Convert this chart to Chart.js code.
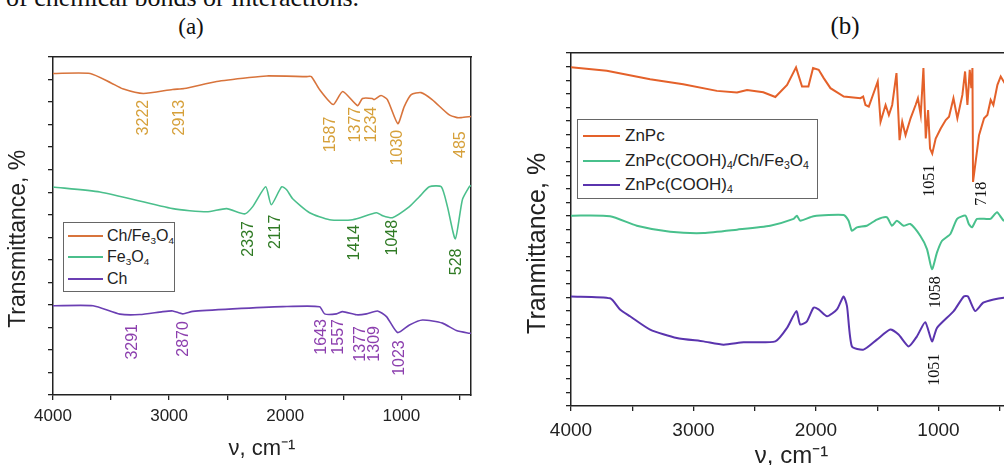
<!DOCTYPE html>
<html><head><meta charset="utf-8">
<script src="https://cdn.jsdelivr.net/npm/chart.js@4"></script>
<style>
html,body{margin:0;padding:0;width:1004px;height:465px;overflow:hidden;background:#fff;position:relative;font-family:"Liberation Sans",Arial,sans-serif;color:#222;}
.abs{position:absolute;}
#cut{left:6px;top:-15px;font:26px/26px "Liberation Serif","Times New Roman",serif;white-space:nowrap;color:#111;}
.ptitle{font-family:"Liberation Serif","Times New Roman",serif;color:#111;transform:translate(-50%,-50%);white-space:nowrap;}
.legend{border:1px solid #666;background:#fff;box-sizing:border-box;}
.row{display:flex;align-items:center;white-space:nowrap;}
.row .ln{display:inline-block;height:0;}
sub{font-size:0.62em;vertical-align:-0.3em;line-height:0;}
</style></head><body>
<div id="cut" class="abs">of chemical bonds or interactions.</div>
<div class="abs ptitle" style="left:191px;top:27px;font-size:23px;">(a)</div>
<div class="abs ptitle" style="left:845px;top:26px;font-size:25px;">(b)</div>
<canvas id="cA" class="abs" width="505" height="465" style="left:0;top:0;"></canvas>
<canvas id="cB" class="abs" width="530" height="480" style="left:505px;top:0;"></canvas>
<div id="legA" class="abs legend" style="left:63px;top:222px;width:112px;height:70px;padding-top:2px;"></div>
<div id="legB" class="abs legend" style="left:577px;top:119px;width:241px;height:80px;padding-top:3.75px;"></div>
<script>
// ---------- Panel (a) data ----------
const namesA = ['Ch/Fe<sub>3</sub>O<sub>4</sub>', 'Fe<sub>3</sub>O<sub>4</sub>', 'Ch'];
const wnChFe = [4000,3680,3500,3400,3222,2970,2870,2590,2310,2160,1815,1775,1705,1587,1505,1377,1335,1250,1234,1175,1120,1030,975,915,830,735,590,520,485,400];
const tChFe  = [14.27,14.27,13.85,13.59,13.38,13.56,13.6,13.91,14.09,14.16,14.13,14.13,13.56,12.89,13.47,12.84,13.16,13.16,13.11,13.29,13.11,12.04,12.8,13.33,13.42,13.11,12.44,12.31,12.31,12.36];
const wnFe = [4000,3596,2968,2676,2504,2349,2280,2168,2120,2031,1988,1936,1790,1618,1420,1214,1163,1077,930,845,759,656,603,535,474,415,400];
const tFe  = [9.23,9.01,8.27,8.13,8.27,8.04,8.36,9.24,8.44,9.24,9.11,8.71,8.09,7.78,7.78,8.09,7.96,7.87,8.36,8.8,9.24,9.24,8.36,6.93,8.67,9.24,9.3];
const wnCh = [4000,3655,3424,3252,3054,2968,2882,2796,2452,2022,1704,1661,1558,1506,1386,1300,1205,1128,1032,930,818,646,526,415,400];
const tCh  = [3.96,3.96,3.59,3.57,3.70,3.73,3.6,3.71,3.82,3.92,3.92,3.6,3.6,3.70,3.56,3.6,3.73,3.48,2.77,3.11,3.33,3.19,2.86,2.74,2.74];
const peakTextA = ['3222','2913','1587','1377','1234','1030','485','2337','2117','1414','1048','528','3291','2870','1643','1557','1377','1309','1023'];
const peakXA = [3218,2908,1610,1395,1257,1034,492,2315,2083,1403,1077,526,3312,2874,1687,1541,1352,1231,1016];
const peakYA = [12.31,12.31,11.56,12.0,12.0,10.98,11.11,6.93,7.24,6.76,6.98,5.91,2.36,2.49,2.58,2.58,2.27,2.27,1.64];
const peakSeriesA = [0,0,0,0,0,0,0,1,1,1,1,1,2,2,2,2,2,2,2];

// ---------- Panel (b) data ----------
const namesB = ['ZnPc', 'ZnPc(COOH)<sub>4</sub>/Ch/Fe<sub>3</sub>O<sub>4</sub>', 'ZnPc(COOH)<sub>4</sub>'];
const wnZn = [4000,3708,3354,3084,2809,2645,2563,2430,2332,2236,2163,2114,2062,2024,1978,1937,1882,1773,1637,1615,1596,1569,1496,1473,1432,1405,1378,1343,1318,1296,1269,1228,1187,1168,1145,1123,1104,1085,1069,1051,1023,982,941,914,878,846,805,783,764,745,732,723,718,669,628,601,574,552,519,492,460,400];
const tZn  = [24.96,24.69,24.07,23.70,23.21,23.09,23.28,23.11,22.76,23.65,24.94,23.53,23.53,24.89,24.76,24.15,23.41,22.79,22.67,22.79,22.17,22.05,23.9,20.94,22.17,21.43,22.17,24.52,19.58,20.94,19.95,21.19,22.17,22.67,21.43,24.89,19.7,21.8,18.96,18.59,19.7,20.44,21.06,21.31,22.67,21.19,22.91,24.64,22.17,24.76,23.41,24.89,16.5,19.95,21.19,21.43,22.54,22.17,23.65,24.27,23.78,24.15];
const wnZnF = [4000,3681,3463,3190,2918,2645,2374,2183,2156,2129,2020,1775,1734,1707,1666,1585,1503,1422,1380,1340,1285,1231,1149,1094,1053,1012,971,903,848,780,753,726,685,576,522,467,400];
const tZnF  = [14.02,13.98,13.28,12.84,12.74,12.99,13.28,13.78,14.02,13.65,13.98,14.07,13.65,12.91,13.16,13.28,13.73,13.9,13.28,13.65,13.28,13.41,12.54,11.56,10.07,11.31,12.17,12.67,13.78,14.02,13.41,13.16,13.78,13.78,14.27,13.65,13.78];
const wnZnC = [4000,3681,3600,3518,3354,3136,2918,2755,2591,2332,2236,2160,2129,2074,2020,1979,1910,1829,1775,1747,1707,1612,1503,1394,1326,1244,1176,1108,1053,1012,876,794,760,700,635,550,467,400];
const tZnC  = [8.07,7.93,7.11,6.61,5.63,5.01,4.76,4.52,4.69,4.76,5.76,6.99,6.0,6.24,7.24,7.11,6.61,7.11,8.07,7.36,4.39,4.15,4.89,5.63,5.26,4.39,5.13,6.17,4.76,5.76,6.99,8.07,8.07,6.99,7.61,7.85,7.98,8.0];
const peakTextB = ['1051','718','1058','1051'];
const peakXB = [1067,650,1026,1034];
const peakYB = [16.59,15.63,8.37,2.67];

// tick positions on the wavenumber axis (labels only at thousands)
const xTickValues = [4000,3500,3000,2500,2000,1500,1000,500];

// ---------- styles ----------
const colorsA = ['#d8743c','#4bbf8c','#6b3fb3'];
const labelColorsA = ['#d6a03a','#2f7a24','#8c3fae'];
const colorsB = ['#e4612a','#48c08c','#5a34ae'];
Chart.defaults.font.family = "'Liberation Sans', Arial, sans-serif";
Chart.defaults.color = '#222';

function pts(xs, ys){ return xs.map((x,i)=>({x:x, y:ys[i]})); }
function plain(html){ return html.replace(/<sub>(\d)<\/sub>/g, (m,d)=>String.fromCharCode(0x2080+Number(d))); }

function peakPlugin(items, font){
  return {
    id:'peakLabels',
    afterDatasetsDraw(chart){
      const {ctx, scales:{x, y}} = chart;
      items.forEach(it=>{
        ctx.save();
        ctx.translate(x.getPixelForValue(it.x), y.getPixelForValue(it.y));
        ctx.rotate(-Math.PI/2);
        ctx.font = font; ctx.fillStyle = it.color;
        ctx.textAlign = 'center'; ctx.textBaseline = 'middle';
        ctx.fillText(it.text, 0, 0);
        ctx.restore();
      });
    }
  };
}

function makeOptions(o){
  const axisColor = '#222';
  return {
    responsive:false, animation:false,
    layout:{padding:{top:o.padTop, right:o.padRight, left:0, bottom:0}},
    plugins:{legend:{display:false}, tooltip:{enabled:false}},
    elements:{point:{radius:0}},
    scales:{
      x:{type:'linear', position:'bottom', min:400, max:4000, reverse:true,
        afterBuildTicks:(s)=>{ s.ticks = xTickValues.map(v=>({value:v})); },
        ticks:{autoSkip:false, maxRotation:0, padding:o.tickPad, color:'#222',
          font:{size:o.tickFont}, callback:(v)=> v%1000===0 ? String(v) : ''},
        grid:{drawOnChartArea:false, drawTicks:true, tickLength:5, color:axisColor, lineWidth:1.3},
        border:{display:true, color:axisColor, width:1.5},
        title:{display:true, text:'\u03BD, cm\u207B\u00B9', font:{size:o.xTitleFont}, color:'#222', padding:{top:0,bottom:o.xTitlePad}},
        afterFit:(s)=>{ s.height = o.xHeight; }
      },
      y:{type:'linear', position:'left', min:0, max:o.yMax,
        ticks:{stepSize:1, display:false},
        grid:{drawOnChartArea:false, drawTicks:true, tickLength:5, color:axisColor, lineWidth:1.3},
        border:{display:true, color:axisColor, width:1.5},
        title:{display:true, text:o.yTitle, font:{size:o.yTitleFont}, color:'#222', padding:{top:o.yTitlePad,bottom:0}},
        afterFit:(s)=>{ s.width = o.yWidth; }
      },
      xTop:{type:'linear', position:'top', min:400, max:4000, reverse:true,
        ticks:{display:false}, grid:{display:false, drawTicks:false},
        border:{display:true, color:axisColor, width:1.5},
        afterFit:(s)=>{ s.height = 0; }
      },
      yRight:{type:'linear', position:'right', min:0, max:o.yMax,
        ticks:{display:false}, grid:{display:false, drawTicks:false},
        border:{display:true, color:axisColor, width:1.5},
        afterFit:(s)=>{ s.width = 0; }
      }
    }
  };
}

// ---------- Panel (a) ----------
const seriesA = [[wnChFe,tChFe],[wnFe,tFe],[wnCh,tCh]];
const itemsA = peakTextA.map((t,i)=>({text:t, x:peakXA[i], y:peakYA[i], color:labelColorsA[peakSeriesA[i]]}));
new Chart(document.getElementById('cA'), {
  type:'line',
  data:{datasets: seriesA.map((s,i)=>({label:plain(namesA[i]), data:pts(s[0],s[1]), borderColor:colorsA[i], borderWidth:1.6, tension:0.2, fill:false}))},
  options: makeOptions({padTop:57, padRight:34, xHeight:70, yWidth:53, yMax:15, tickFont:17, tickPad:6,
    xTitleFont:22, xTitlePad:2.8, yTitle:'Transmittance, %    ', yTitleFont:23, yTitlePad:5}),
  plugins:[peakPlugin(itemsA, "16px 'Liberation Sans', Arial, sans-serif")]
});

// ---------- Panel (b) ----------
const seriesB = [[wnZn,tZn],[wnZnF,tZnF],[wnZnC,tZnC]];
const itemsB = peakTextB.map((t,i)=>({text:t, x:peakXB[i], y:peakYB[i], color:'#111'}));
new Chart(document.getElementById('cB'), {
  type:'line',
  data:{datasets: seriesB.map((s,i)=>({label:plain(namesB[i]), data:pts(s[0],s[1]), borderColor:colorsB[i], borderWidth:2, tension: i===0 ? 0 : 0.2, fill:false}))},
  options: makeOptions({padTop:53, padRight:23, xHeight:74, yWidth:66, yMax:26, tickFont:19, tickPad:8,
    xTitleFont:24, xTitlePad:9.6, yTitle:'Tranmittance, %    ', yTitleFont:25, yTitlePad:18}),
  plugins:[peakPlugin(itemsB, "16px 'Liberation Serif', 'Times New Roman', serif")]
});

// ---------- HTML legends ----------
function buildLegend(id, names, colors, rowH, fontSize, lnLeft, lnW, lnH, gap){
  const el = document.getElementById(id);
  names.forEach((n,i)=>{
    const r = document.createElement('div');
    r.className = 'row';
    r.style.height = rowH + 'px';
    r.style.fontSize = fontSize + 'px';
    r.innerHTML = '<span class="ln" style="margin-left:'+lnLeft+'px;width:'+lnW+'px;border-top:'+lnH+'px solid '+colors[i]+'"></span><span style="margin-left:'+gap+'px">'+n+'</span>';
    el.appendChild(r);
  });
}
buildLegend('legA', namesA, colorsA, 21.5, 16, 4, 35, 2, 4);
buildLegend('legB', namesB, colorsB, 24.5, 17, 5, 37, 2, 5);
</script>
</body></html>
